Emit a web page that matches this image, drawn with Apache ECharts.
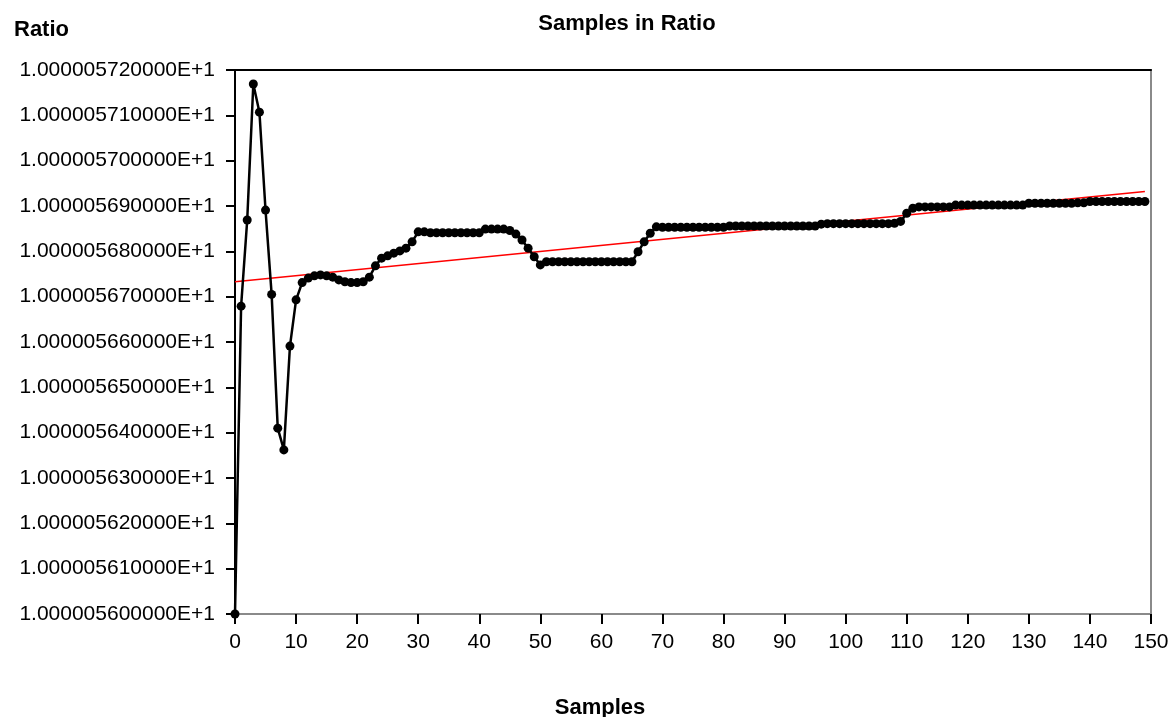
<!DOCTYPE html>
<html>
<head>
<meta charset="utf-8">
<script src="https://cdn.jsdelivr.net/npm/echarts@6/dist/echarts.min.js"></script>
<style>
  html, body { margin: 0; padding: 0; background: #fff; }
  #chart { width: 1173px; height: 717px; }
</style>
</head>
<body>
<div id="chart"></div>
<script>
// ratio per sample, sample index = position in array
var ratio = [
  10.000056000, 10.000056679, 10.000056869, 10.000057169, 10.000057107,
  10.000056891, 10.000056705, 10.000056410, 10.000056362, 10.000056591,
  10.000056693, 10.000056731, 10.000056741, 10.000056746, 10.000056748,
  10.000056746, 10.000056743, 10.000056737, 10.000056733, 10.000056731,
  10.000056731, 10.000056733, 10.000056743, 10.000056768, 10.000056785,
  10.000056790, 10.000056796, 10.000056801, 10.000056807, 10.000056821,
  10.000056843, 10.000056843, 10.000056841, 10.000056841, 10.000056841,
  10.000056841, 10.000056841, 10.000056841, 10.000056841, 10.000056841,
  10.000056841, 10.000056849, 10.000056849, 10.000056849, 10.000056849,
  10.000056846, 10.000056838, 10.000056825, 10.000056807, 10.000056788,
  10.000056770, 10.000056777, 10.000056777, 10.000056777, 10.000056777,
  10.000056777, 10.000056777, 10.000056777, 10.000056777, 10.000056777,
  10.000056777, 10.000056777, 10.000056777, 10.000056777, 10.000056777,
  10.000056777, 10.000056799, 10.000056821, 10.000056840, 10.000056854,
  10.000056853, 10.000056853, 10.000056853, 10.000056853, 10.000056853,
  10.000056853, 10.000056853, 10.000056853, 10.000056853, 10.000056853,
  10.000056853, 10.000056856, 10.000056856, 10.000056856, 10.000056856,
  10.000056856, 10.000056856, 10.000056856, 10.000056856, 10.000056856,
  10.000056856, 10.000056856, 10.000056856, 10.000056856, 10.000056856,
  10.000056856, 10.000056860, 10.000056861, 10.000056861, 10.000056861,
  10.000056861, 10.000056861, 10.000056861, 10.000056861, 10.000056861,
  10.000056861, 10.000056861, 10.000056861, 10.000056862, 10.000056866,
  10.000056884, 10.000056895, 10.000056898, 10.000056898, 10.000056898,
  10.000056898, 10.000056898, 10.000056898, 10.000056902, 10.000056902,
  10.000056902, 10.000056902, 10.000056902, 10.000056902, 10.000056902,
  10.000056902, 10.000056902, 10.000056902, 10.000056902, 10.000056902,
  10.000056906, 10.000056906, 10.000056906, 10.000056906, 10.000056906,
  10.000056906, 10.000056906, 10.000056906, 10.000056907, 10.000056907,
  10.000056910, 10.000056910, 10.000056910, 10.000056910, 10.000056910,
  10.000056910, 10.000056910, 10.000056910, 10.000056910, 10.000056910
];

// linear fit (red), end points
var fitX = [0, 149];
var fitRatio = [10.000056733, 10.000056932];

// y is plotted as micro-units above 10 so the axis maths stays clean
function toMicro(v) { return Math.round((v - 10) * 1e9) / 1e3; }

var ratioPts = ratio.map(function (v, i) { return [i, toMicro(v)]; });
var fitPts = fitX.map(function (x, i) { return [x, toMicro(fitRatio[i])]; });

var font = '"Liberation Sans", Arial, sans-serif';

var chart = echarts.init(document.getElementById('chart'));
chart.setOption({
  animation: false,
  backgroundColor: '#fff',
  title: [
    { text: 'Samples in Ratio', left: 622, top: 8, textAlign: 'center',
      textStyle: { fontFamily: font, fontSize: 22, fontWeight: 'bold', color: '#000' } },
    { text: 'Ratio', left: 9, top: 14,
      textStyle: { fontFamily: font, fontSize: 22, fontWeight: 'bold', color: '#000' } },
    { text: 'Samples', left: 595, top: 692, textAlign: 'center',
      textStyle: { fontFamily: font, fontSize: 22, fontWeight: 'bold', color: '#000' } }
  ],
  grid: {
    left: 235, right: 22, top: 70, bottom: 103,
    show: true, borderColor: '#8a8a8a', borderWidth: 2
  },
  xAxis: [{
    type: 'value', min: 0, max: 150, interval: 10,
    axisLine: { lineStyle: { color: '#8a8a8a', width: 2 } },
    axisTick: { length: 10, lineStyle: { color: '#000', width: 2 } },
    axisLabel: { margin: 18, fontFamily: font, fontSize: 21, color: '#000' },
    splitLine: { show: false }
  }, {
    type: 'value', position: 'top', min: 0, max: 150,
    axisLine: { lineStyle: { color: '#000', width: 2 } },
    axisTick: { show: false }, axisLabel: { show: false }, splitLine: { show: false }
  }],
  yAxis: {
    type: 'value', min: 56, max: 57.2, interval: 0.1,
    axisLine: { show: true, lineStyle: { color: '#000', width: 2 } },
    axisTick: { length: 9, lineStyle: { color: '#000', width: 2 } },
    axisLabel: {
      margin: 20, fontFamily: font, fontSize: 21, color: '#000',
      formatter: function (v) { return (1 + v * 1e-7).toFixed(12) + 'E+1'; }
    },
    splitLine: { show: false }
  },
  series: [{
    type: 'line',
    data: ratioPts,
    symbol: 'circle', symbolSize: 9, showAllSymbol: true,
    itemStyle: { color: '#000' },
    lineStyle: { color: '#000', width: 2.5 },
    z: 3
  }, {
    type: 'line',
    data: fitPts,
    symbol: 'none',
    lineStyle: { color: '#ff0000', width: 1.5 },
    z: 2
  }]
});
</script>
</body>
</html>
